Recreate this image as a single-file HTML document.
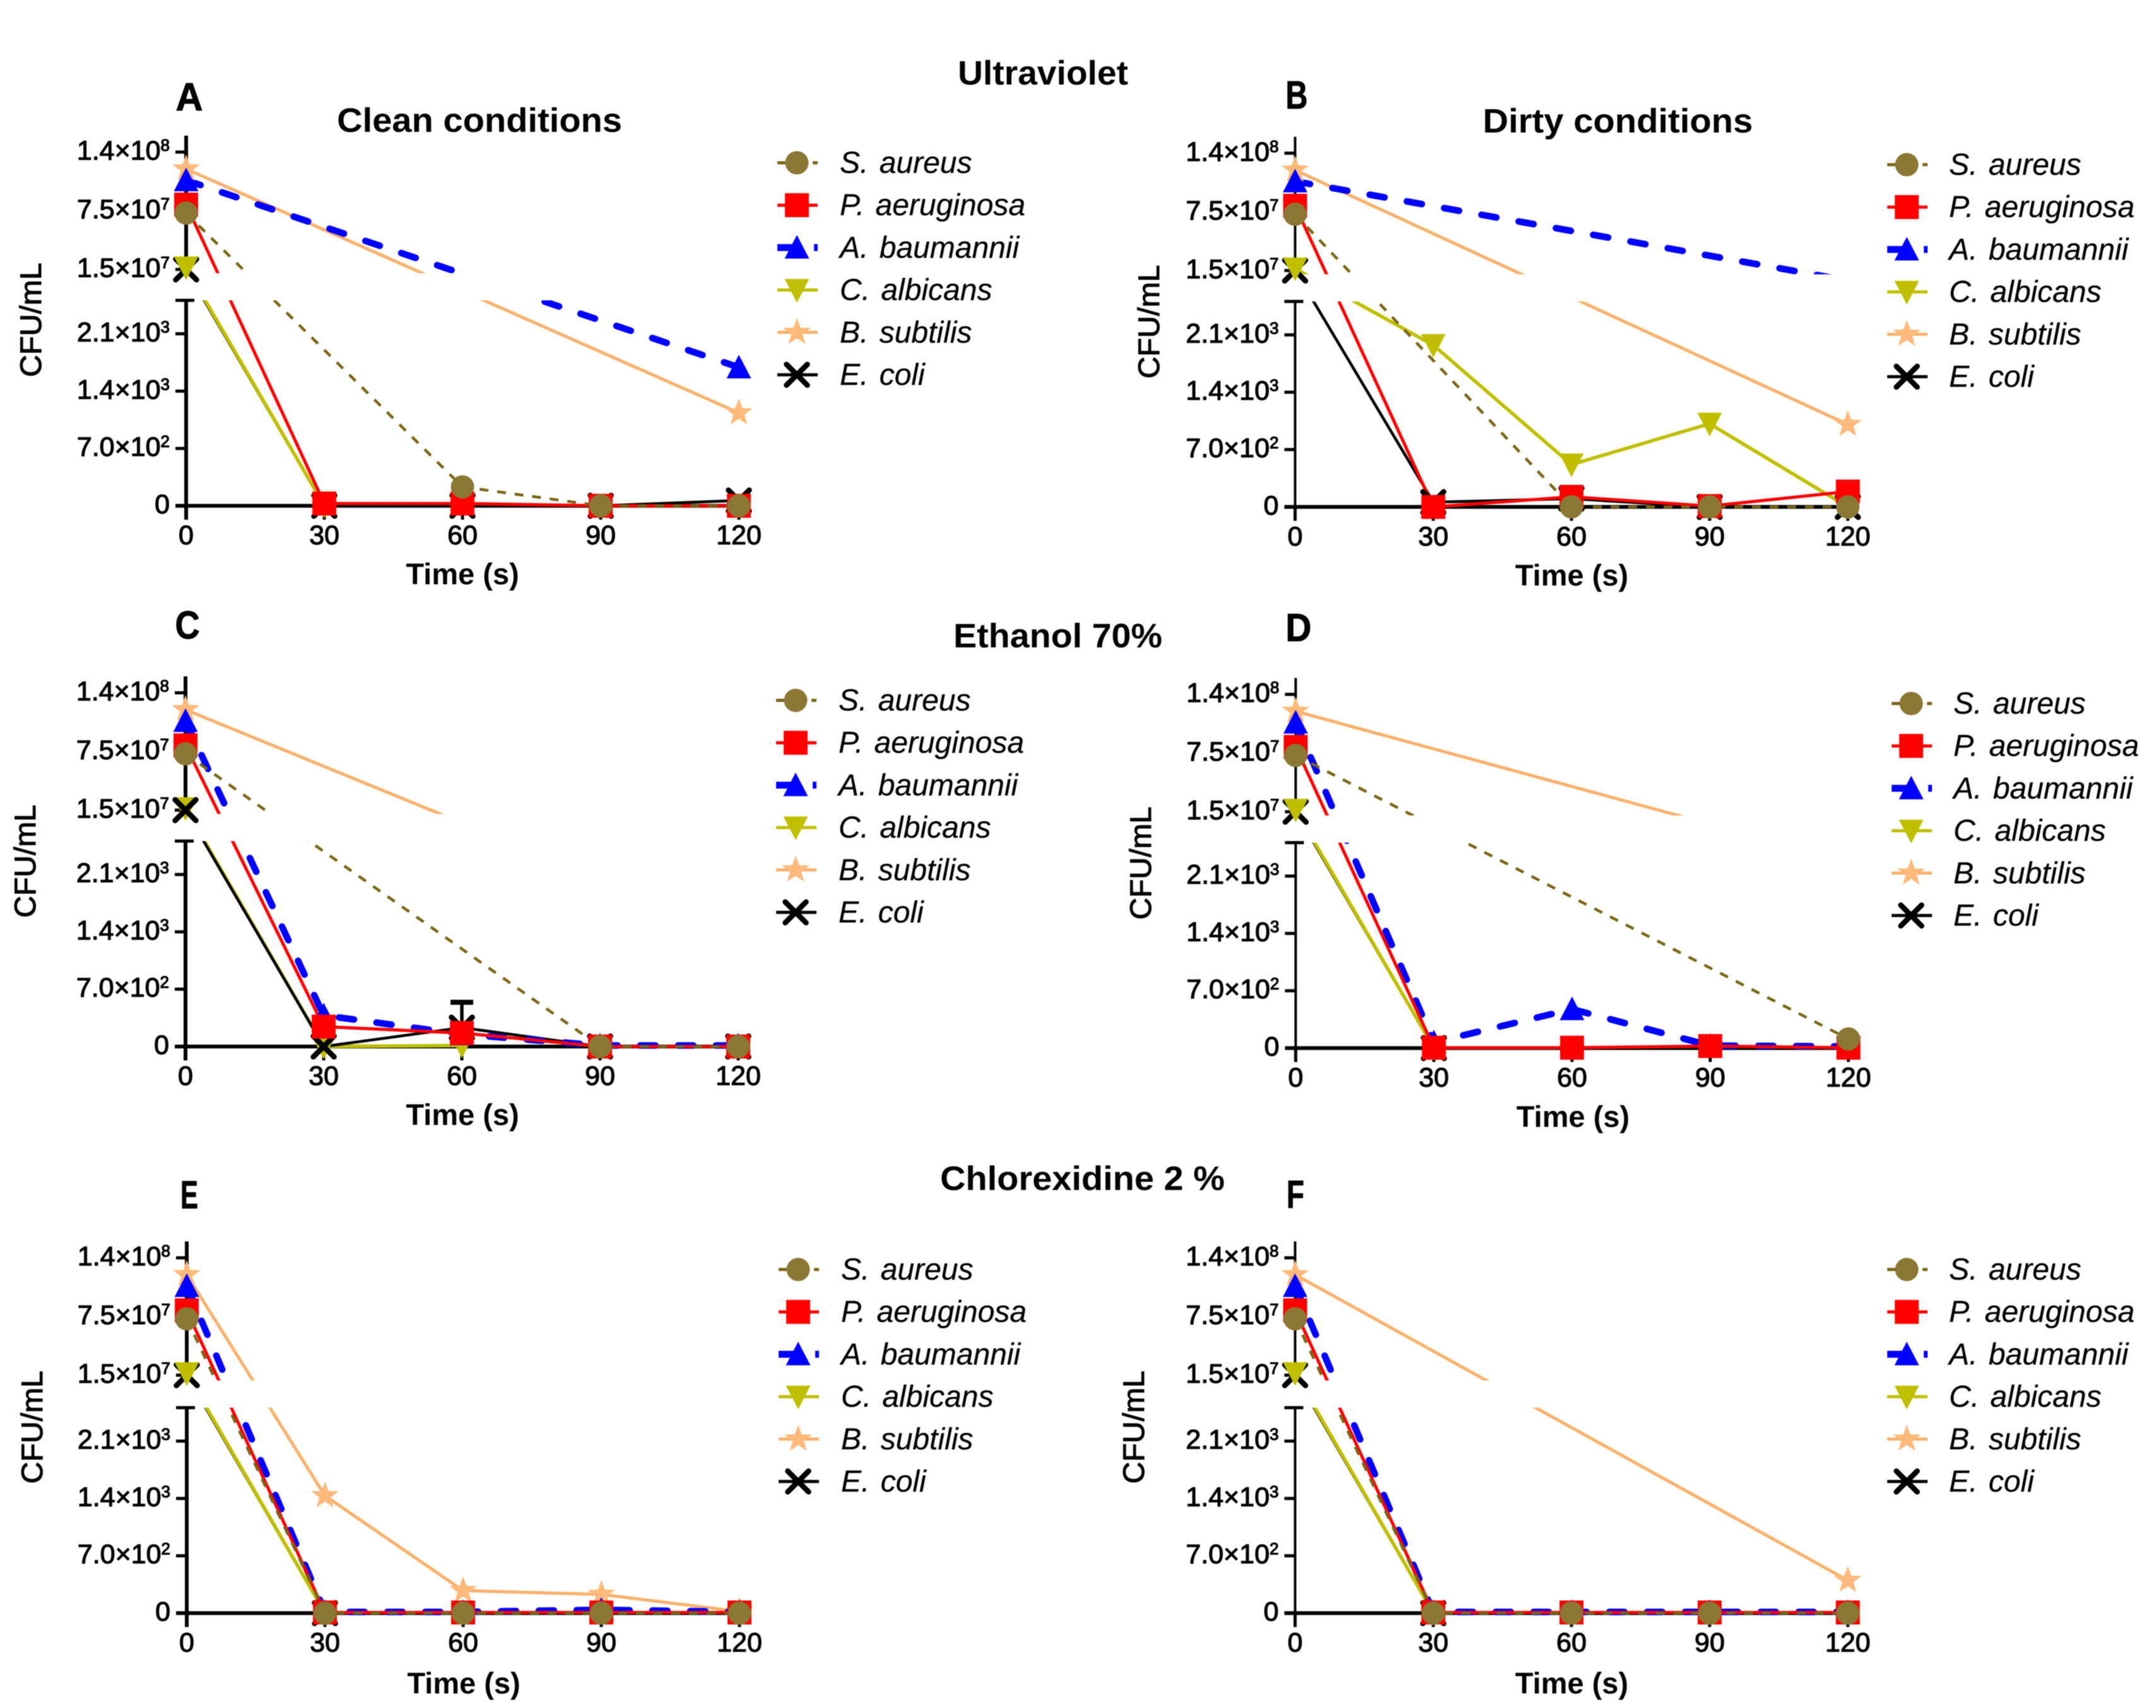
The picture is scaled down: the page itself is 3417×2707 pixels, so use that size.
<!DOCTYPE html>
<html lang="en">
<head>
<meta charset="utf-8">
<title>CFU/mL reduction over time for six microorganisms under ultraviolet, ethanol and chlorhexidine</title>
<style>
  html, body { margin: 0; padding: 0; background: #fff; }
  svg#figure { display: block; width: 3417px; height: 2707px; filter: blur(0.8px); }
  text { font-family: "Liberation Sans", Arial, sans-serif; fill: #000; }
  .head { font-weight: bold; font-size: 54px; }
  .letter { font-weight: bold; font-size: 62px; text-anchor: middle; stroke: #000; stroke-width: 1px; }
  .xtitle { font-weight: bold; font-size: 47px; text-anchor: middle; }
  .ytitle { font-size: 47px; text-anchor: middle; stroke: #000; stroke-width: 1.1px; }
  .leg { font-style: italic; font-size: 48px; word-spacing: 4px; stroke: #000; stroke-width: 0.3px; }
  .tick { font-size: 43px; stroke: #000; stroke-width: 1.2px; }
</style>
</head>
<body>
<svg id="figure" xmlns="http://www.w3.org/2000/svg" viewBox="0 0 3417 2707">
  <defs>
    <circle id="m-circle" r="18.5" fill="#8a7733"/>
    <rect id="m-square" x="-19" y="-19" width="38" height="38" fill="#ff0000"/>
    <polygon id="m-up" points="0,-20 19.5,17.5 -19.5,17.5" fill="#0000ff"/>
    <polygon id="m-down" points="-19.5,-17.5 19.5,-17.5 0,20" fill="#bfbf00"/>
    <polygon id="m-star" points="0,-23 5.5,-7.6 21.9,-7.1 8.9,2.9 13.5,18.6 0,9.4 -13.5,18.6 -8.9,2.9 -21.9,-7.1 -5.5,-7.6" fill="#ffb97a"/>
    <g id="m-x" stroke="#000" stroke-width="8.5" stroke-linecap="round" fill="none">
      <line x1="-16.5" y1="-16.5" x2="16.5" y2="16.5"/>
      <line x1="16.5" y1="-16.5" x2="-16.5" y2="16.5"/>
    </g>
    <g id="leg-s">
      <line x1="-31" y1="0" x2="33" y2="0" stroke="#7a6514" stroke-width="5" stroke-dasharray="14 14"/>
      <use href="#m-circle"/>
    </g>
    <g id="leg-p">
      <line x1="-31" y1="0" x2="33" y2="0" stroke="#ff0000" stroke-width="5"/>
      <use href="#m-square"/>
    </g>
    <g id="leg-a">
      <line x1="-31" y1="0" x2="33" y2="0" stroke="#0000ff" stroke-width="11" stroke-dasharray="26 32"/>
      <use href="#m-up"/>
    </g>
    <g id="leg-c">
      <line x1="-31" y1="0" x2="33" y2="0" stroke="#bfbf00" stroke-width="5"/>
      <use href="#m-down"/>
    </g>
    <g id="leg-b">
      <line x1="-31" y1="0" x2="33" y2="0" stroke="#fbb06a" stroke-width="5"/>
      <use href="#m-star"/>
    </g>
    <g id="leg-e">
      <line x1="-31" y1="0" x2="33" y2="0" stroke="#000" stroke-width="5"/>
      <use href="#m-x"/>
    </g>
  </defs>

  <!-- Section headings -->
  <text class="head" x="1518" y="134" textLength="270" lengthAdjust="spacingAndGlyphs">Ultraviolet</text>
  <text class="head" x="1511" y="1026" textLength="331" lengthAdjust="spacingAndGlyphs">Ethanol 70%</text>
  <text class="head" x="1490" y="1886" textLength="451" lengthAdjust="spacingAndGlyphs">Chlorexidine 2 %</text>
  <text class="head" x="534" y="209" textLength="452" lengthAdjust="spacingAndGlyphs">Clean conditions</text>
  <text class="head" x="2350" y="210" textLength="428" lengthAdjust="spacingAndGlyphs">Dirty conditions</text>

  <!-- Panel letters -->
  <text class="letter" x="300" y="175" textLength="43" lengthAdjust="spacingAndGlyphs">A</text>
  <text class="letter" x="2055" y="172" textLength="35" lengthAdjust="spacingAndGlyphs">B</text>
  <text class="letter" x="297" y="1012" textLength="39" lengthAdjust="spacingAndGlyphs">C</text>
  <text class="letter" x="2058" y="1016" textLength="41" lengthAdjust="spacingAndGlyphs">D</text>
  <text class="letter" x="300" y="1915" textLength="28" lengthAdjust="spacingAndGlyphs">E</text>
  <text class="letter" x="2053" y="1914" textLength="28" lengthAdjust="spacingAndGlyphs">F</text>

  <!-- Y axis titles -->
  <text class="ytitle" transform="translate(65,507) rotate(-90)" textLength="181" lengthAdjust="spacingAndGlyphs">CFU/mL</text>
  <text class="ytitle" transform="translate(1837,510) rotate(-90)" textLength="180" lengthAdjust="spacingAndGlyphs">CFU/mL</text>
  <text class="ytitle" transform="translate(56,1365) rotate(-90)" textLength="179" lengthAdjust="spacingAndGlyphs">CFU/mL</text>
  <text class="ytitle" transform="translate(1824,1368) rotate(-90)" textLength="179" lengthAdjust="spacingAndGlyphs">CFU/mL</text>
  <text class="ytitle" transform="translate(67,2262) rotate(-90)" textLength="179" lengthAdjust="spacingAndGlyphs">CFU/mL</text>
  <text class="ytitle" transform="translate(1813,2262) rotate(-90)" textLength="179" lengthAdjust="spacingAndGlyphs">CFU/mL</text>

  <!-- X axis titles -->
  <text class="xtitle" x="733" y="926">Time (s)</text>
  <text class="xtitle" x="2491" y="928">Time (s)</text>
  <text class="xtitle" x="733" y="1783">Time (s)</text>
  <text class="xtitle" x="2493" y="1786">Time (s)</text>
  <text class="xtitle" x="735" y="2684">Time (s)</text>
  <text class="xtitle" x="2491" y="2684">Time (s)</text>

  <!-- Plot marks are added here by script -->
  <g id="plots"></g>

  <!-- Legend A -->
  <g transform="translate(1263,258)">
    <g><use href="#leg-s"/><text class="leg" x="68" y="16">S. aureus</text></g>
    <g transform="translate(0,67.2)"><use href="#leg-p"/><text class="leg" x="68" y="16">P. aeruginosa</text></g>
    <g transform="translate(0,134.4)"><use href="#leg-a"/><text class="leg" x="68" y="16">A. baumannii</text></g>
    <g transform="translate(0,201.6)"><use href="#leg-c"/><text class="leg" x="68" y="16">C. albicans</text></g>
    <g transform="translate(0,268.8)"><use href="#leg-b"/><text class="leg" x="68" y="16">B. subtilis</text></g>
    <g transform="translate(0,336)"><use href="#leg-e"/><text class="leg" x="68" y="16">E. coli</text></g>
  </g>
  <!-- Legend B -->
  <g transform="translate(3022,261)">
    <g><use href="#leg-s"/><text class="leg" x="67" y="16">S. aureus</text></g>
    <g transform="translate(0,67.2)"><use href="#leg-p"/><text class="leg" x="67" y="16">P. aeruginosa</text></g>
    <g transform="translate(0,134.4)"><use href="#leg-a"/><text class="leg" x="67" y="16">A. baumannii</text></g>
    <g transform="translate(0,201.6)"><use href="#leg-c"/><text class="leg" x="67" y="16">C. albicans</text></g>
    <g transform="translate(0,268.8)"><use href="#leg-b"/><text class="leg" x="67" y="16">B. subtilis</text></g>
    <g transform="translate(0,336)"><use href="#leg-e"/><text class="leg" x="67" y="16">E. coli</text></g>
  </g>
  <!-- Legend C -->
  <g transform="translate(1261,1110)">
    <g><use href="#leg-s"/><text class="leg" x="68" y="16">S. aureus</text></g>
    <g transform="translate(0,67.2)"><use href="#leg-p"/><text class="leg" x="68" y="16">P. aeruginosa</text></g>
    <g transform="translate(0,134.4)"><use href="#leg-a"/><text class="leg" x="68" y="16">A. baumannii</text></g>
    <g transform="translate(0,201.6)"><use href="#leg-c"/><text class="leg" x="68" y="16">C. albicans</text></g>
    <g transform="translate(0,268.8)"><use href="#leg-b"/><text class="leg" x="68" y="16">B. subtilis</text></g>
    <g transform="translate(0,336)"><use href="#leg-e"/><text class="leg" x="68" y="16">E. coli</text></g>
  </g>
  <!-- Legend D -->
  <g transform="translate(3029,1115)">
    <g><use href="#leg-s"/><text class="leg" x="67" y="16">S. aureus</text></g>
    <g transform="translate(0,67.2)"><use href="#leg-p"/><text class="leg" x="67" y="16">P. aeruginosa</text></g>
    <g transform="translate(0,134.4)"><use href="#leg-a"/><text class="leg" x="67" y="16">A. baumannii</text></g>
    <g transform="translate(0,201.6)"><use href="#leg-c"/><text class="leg" x="67" y="16">C. albicans</text></g>
    <g transform="translate(0,268.8)"><use href="#leg-b"/><text class="leg" x="67" y="16">B. subtilis</text></g>
    <g transform="translate(0,336)"><use href="#leg-e"/><text class="leg" x="67" y="16">E. coli</text></g>
  </g>
  <!-- Legend E -->
  <g transform="translate(1265,2012)">
    <g><use href="#leg-s"/><text class="leg" x="68" y="16">S. aureus</text></g>
    <g transform="translate(0,67.2)"><use href="#leg-p"/><text class="leg" x="68" y="16">P. aeruginosa</text></g>
    <g transform="translate(0,134.4)"><use href="#leg-a"/><text class="leg" x="68" y="16">A. baumannii</text></g>
    <g transform="translate(0,201.6)"><use href="#leg-c"/><text class="leg" x="68" y="16">C. albicans</text></g>
    <g transform="translate(0,268.8)"><use href="#leg-b"/><text class="leg" x="68" y="16">B. subtilis</text></g>
    <g transform="translate(0,336)"><use href="#leg-e"/><text class="leg" x="68" y="16">E. coli</text></g>
  </g>
  <!-- Legend F -->
  <g transform="translate(3022,2012)">
    <g><use href="#leg-s"/><text class="leg" x="67" y="16">S. aureus</text></g>
    <g transform="translate(0,67.2)"><use href="#leg-p"/><text class="leg" x="67" y="16">P. aeruginosa</text></g>
    <g transform="translate(0,134.4)"><use href="#leg-a"/><text class="leg" x="67" y="16">A. baumannii</text></g>
    <g transform="translate(0,201.6)"><use href="#leg-c"/><text class="leg" x="67" y="16">C. albicans</text></g>
    <g transform="translate(0,268.8)"><use href="#leg-b"/><text class="leg" x="67" y="16">B. subtilis</text></g>
    <g transform="translate(0,336)"><use href="#leg-e"/><text class="leg" x="67" y="16">E. coli</text></g>
  </g>
</svg>

<script>
// ---------- data ----------
const times = [0, 30, 60, 90, 120];

// the middle upper tick sits at the midpoint of the upper segment
const upperTicks = [140000000, 77500000, 15000000];
const upperMantissas = ["1.4", "7.5", "1.5"];
const upperExponents = ["8", "7", "7"];
const lowerTicks = [2100, 1400, 700, 0];
const lowerMantissas = ["2.1", "1.4", "7.0", "0"];
const lowerExponents = ["3", "3", "2", ""];

// Panel A: UV, clean conditions
const aSAureus = [75000000, null, 230, 0, 0];
const aPAeruginosa = [84000000, 28, 28, 0, 0];
const aABaumannii = [110000000, null, null, null, 1690];
const aCAlbicans = [17000000, 0, null, null, null];
const aBSubtilis = [122000000, null, null, null, 1135];
const aEColi = [15000000, 0, 0, 0, 65];

// Panel B: UV, dirty conditions
const bSAureus = [75000000, null, 0, 0, 0];
const bPAeruginosa = [84000000, 0, 123, 10, 187];
const bABaumannii = [110000000, null, null, null, 8500000];
const bCAlbicans = [17000000, 1975, 517, 1015, 0];
const bBSubtilis = [122000000, null, null, null, 1007];
const bEColi = [15000000, 58, 100, 0, 0];

// Panel C: ethanol, clean conditions
const cSAureus = [75000000, null, null, 0, 0];
const cPAeruginosa = [84000000, 243, 165, 0, 0];
const cABaumannii = [110000000, 380, 150, 12, 12];
const cCAlbicans = [17000000, 0, 12, null, null];
const cBSubtilis = [122000000, null, 7400000, null, null];
const cEColi = [15000000, 0, 230, 0, 0];
const cEColiErrorTop = [null, null, 540, null, null];

// Panel D: ethanol, dirty conditions
const dSAureus = [75000000, null, null, null, 112];
const dPAeruginosa = [84000000, 5, 5, 25, 5];
const dABaumannii = [110000000, 70, 475, 30, 20];
const dCAlbicans = [17000000, 0, null, null, null];
const dBSubtilis = [122000000, null, null, 7500000, null];
const dEColi = [15000000, 0, null, null, null];

// Panel E: chlorexidine, clean conditions
const eSAureus = [75000000, 0, 0, 0, 0];
const ePAeruginosa = [84000000, 8, 8, 8, 8];
const eABaumannii = [110000000, 15, 15, 40, 15];
const eCAlbicans = [17000000, 0, null, null, null];
const eBSubtilis = [122000000, 1433, 275, 228, 20];
const eEColi = [15000000, 0, null, null, null];

// Panel F: chlorexidine, dirty conditions
const fSAureus = [75000000, 0, 0, 0, 0];
const fPAeruginosa = [84000000, 8, 8, 8, 8];
const fABaumannii = [110000000, 15, 15, 15, 15];
const fCAlbicans = [17000000, 0, null, null, null];
const fBSubtilis = [122000000, null, null, null, 400];
const fEColi = [15000000, 0, null, null, null];

// ---------- drawing ----------
const SVGNS = "http://www.w3.org/2000/svg";
const plots = document.getElementById("plots");
const defs = document.querySelector("#figure defs");

function make(tag, parent, attrs) {
  const el = document.createElementNS(SVGNS, tag);
  for (const k in attrs) el.setAttribute(k, attrs[k]);
  parent.appendChild(el);
  return el;
}

const styleS = { key: "s-aureus", marker: "#m-circle", stroke: "#7a6514", width: 4.5, dash: "14 14", cap: "butt" };
const styleP = { key: "p-aeruginosa", marker: "#m-square", stroke: "#ff0000", width: 5, dash: "", cap: "butt" };
const styleA = { key: "a-baumannii", marker: "#m-up", stroke: "#0000ff", width: 10.5, dash: "24 36", cap: "round" };
const styleC = { key: "c-albicans", marker: "#m-down", stroke: "#bfbf00", width: 5.5, dash: "", cap: "butt" };
const styleB = { key: "b-subtilis", marker: "#m-star", stroke: "#fbb06a", width: 5, dash: "", cap: "butt" };
const styleE = { key: "e-coli", marker: "#m-x", stroke: "#000000", width: 4.5, dash: "", cap: "butt" };

function drawPanel(id, dx, dy, axisWidth, upShift, layers, errorTop) {
  // axis scale geometry (panel A reference, shifted per panel)
  const x0 = 295 + dx, xSpan = 876;
  const y0 = 801.6 + dy, yLowerTop = 476 + dy, yBandTop = 433 + dy;
  const yHigh = 241 + dy + upShift, yAxisTop = 215 + dy + upShift;
  const lowerMax = 2500, upperMin = 11000000, upperHigh = 140000000;
  const pxPerLower = (y0 - 529 - dy) / 2100;
  const pxPerUpper = 186 / 125000000;

  const xScale = t => x0 + (t / 120) * xSpan;
  const inGap = v => v > lowerMax && v < upperMin;
  const yScale = v => {
    if (v <= lowerMax) return y0 - v * pxPerLower;
    if (v >= upperMin) return yHigh + (upperHigh - v) * pxPerUpper;
    return yLowerTop - ((v - lowerMax) / (upperMin - lowerMax)) * (yLowerTop - yBandTop);
  };

  const panel = make("g", plots, {});
  
  

  // axes
  const axes = make("g", panel, { stroke: "#000", fill: "none" });
  
  

  const yUpper = make("line", axes, { x1: x0, x2: x0, y1: yAxisTop, y2: yBandTop, "stroke-width": axisWidth });
  
  

  const yLower = make("line", axes, { x1: x0, x2: x0, y1: yLowerTop, y2: y0 + 22, "stroke-width": axisWidth });
  
  

  const yCap = make("line", axes, { x1: x0 - 17, x2: x0 + 13, y1: yLowerTop, y2: yLowerTop, "stroke-width": 5 });
  
  

  const xAxis = make("line", axes, { x1: x0 - 17, x2: x0 + xSpan, y1: y0, y2: y0, "stroke-width": 6 });
  
  

  times.forEach(t => {
    const tk = make("line", axes, { x1: xScale(t), x2: xScale(t), y1: y0, y2: y0 + 22, "stroke-width": 5 });
    
    
    const lab = make("text", panel, { class: "tick", x: xScale(t), y: y0 + 61, "text-anchor": "middle" });
    lab.textContent = String(t);
    
    
  });

  function yTick(value, mantissa, exponent) {
    const y = yScale(value);
    const tk = make("line", axes, { x1: x0 - 17, x2: x0, y1: y, y2: y, "stroke-width": 5 });
    
    
    const lab = make("text", panel, { class: "tick", x: x0 - 26, y: y + 12, "text-anchor": "end" });
    
    
    if (exponent) {
      lab.appendChild(document.createTextNode(mantissa + "\u00d710"));
      const sup = make("tspan", lab, { dy: -14, "font-size": 26 });
      sup.textContent = exponent;
    } else {
      lab.textContent = mantissa;
    }
  }
  upperTicks.forEach((v, i) => yTick(v, upperMantissas[i], upperExponents[i]));
  lowerTicks.forEach((v, i) => yTick(v, lowerMantissas[i], lowerExponents[i]));

  // clip: the lines do not draw inside the axis break
  const clip = make("clipPath", defs, { id: "clip-" + id });
  make("rect", clip, { x: 0, y: yAxisTop - 100, width: 3417, height: yBandTop - yAxisTop + 100 });
  make("rect", clip, { x: 0, y: yLowerTop, width: 3417, height: y0 - yLowerTop + 60 });

  // lines
  const linesGroup = make("g", panel, { "clip-path": "url(#clip-" + id + ")" });
  
  
  layers.forEach(layer => {
    const st = layer.style;
    const pts = [];
    layer.values.forEach((v, i) => {
      if (v !== null) pts.push(xScale(times[i]).toFixed(1) + "," + yScale(v).toFixed(1));
    });
    const line = make("polyline", linesGroup, {
      points: pts.join(" "),
      fill: "none",
      stroke: st.stroke,
      "stroke-width": st.width,
      "stroke-linecap": st.cap,
      "stroke-linejoin": "round"
    });
    if (st.dash) line.setAttribute("stroke-dasharray", st.dash);
    
    
  });

  // error bar
  if (errorTop) {
    errorTop.forEach((top, i) => {
      if (top === null) return;
      const x = xScale(times[i]);
      const base = layers.find(l => l.style === styleE).values[i];
      const stem = make("line", panel, { x1: x, x2: x, y1: yScale(base), y2: yScale(top), stroke: "#000", "stroke-width": 5.5 });
      
      
      const cap = make("line", panel, { x1: x - 18, x2: x + 18, y1: yScale(top), y2: yScale(top), stroke: "#000", "stroke-width": 8 });
      
      
    });
  }

  // markers
  layers.forEach(layer => {
    const st = layer.style;
    layer.values.forEach((v, i) => {
      if (v === null || inGap(v)) return;
      const m = make("use", panel, { href: st.marker, transform: "translate(" + xScale(times[i]).toFixed(1) + "," + yScale(v).toFixed(1) + ")" });
      
      
    });
  });
}

function layerList(e, b, c, a, p, s) {
  return [
    { style: styleE, values: e },
    { style: styleB, values: b },
    { style: styleC, values: c },
    { style: styleA, values: a },
    { style: styleP, values: p },
    { style: styleS, values: s }
  ];
}

drawPanel("a", 0, 0, 6, 0, layerList(aEColi, aBSubtilis, aCAlbicans, aABaumannii, aPAeruginosa, aSAureus));
drawPanel("b", 1757.6, 1.8, 4, 0, layerList(bEColi, bBSubtilis, bCAlbicans, bABaumannii, bPAeruginosa, bSAureus));
drawPanel("c", -1, 857, 6, 0, [
  { style: styleB, values: cBSubtilis },
  { style: styleC, values: cCAlbicans },
  { style: styleE, values: cEColi },
  { style: styleA, values: cABaumannii },
  { style: styleP, values: cPAeruginosa },
  { style: styleS, values: cSAureus }
], cEColiErrorTop);
drawPanel("d", 1758.5, 859.5, 4, 0, layerList(dEColi, dBSubtilis, dCAlbicans, dABaumannii, dPAeruginosa, dSAureus));
drawPanel("e", 1, 1755, 6, -2.5, layerList(eEColi, eBSubtilis, eCAlbicans, eABaumannii, ePAeruginosa, eSAureus));
drawPanel("f", 1757.6, 1755, 4, -2.5, layerList(fEColi, fBSubtilis, fCAlbicans, fABaumannii, fPAeruginosa, fSAureus));
</script>
</body>
</html>
